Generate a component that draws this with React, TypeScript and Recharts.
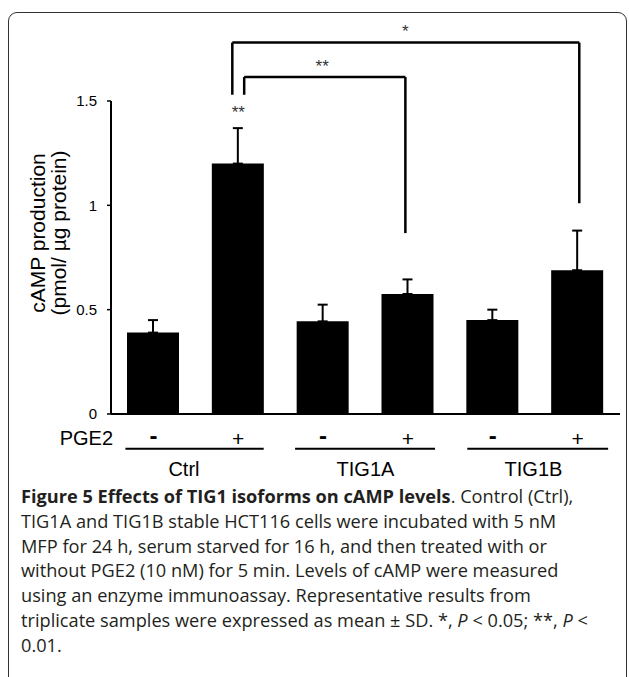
import React from 'react';
import {
  BarChart, Bar, XAxis, YAxis, ErrorBar, ReferenceLine, ReferenceDot,
} from 'recharts';

// ---- data ----
const categories = ['Ctrl-', 'Ctrl+', 'TIG1A-', 'TIG1A+', 'TIG1B-', 'TIG1B+'];
const barPositions = [0.5, 1.5, 2.5, 3.5, 4.5, 5.5];
const pge2Signs = ['-', '+', '-', '+', '-', '+'];
const campValues = [0.39, 1.2, 0.444, 0.575, 0.45, 0.689];
const campSD = [0.06, 0.17, 0.08, 0.07, 0.05, 0.19];
const groupLabels = ['Ctrl', 'TIG1A', 'TIG1B'];
const groupLabelX = [0.86, 3.0, 4.98];
const groupSpans = [[0.17, 1.8], [2.17, 3.82], [4.2, 5.86]];
const yTicks = [0, 0.5, 1, 1.5];
const barSig = [{ x: 1.5, y: 1.447, text: '**' }];
// significance brackets in data units (numeric x axis: bar i center = i + 0.5)
const brackets = [
  { text: '*', x1: 1.43, x2: 5.52, top: 1.78, leftEnd: 1.53, rightEnd: 1.01, labelX: 3.47, labelY: 1.835 },
  { text: '**', x1: 1.57, x2: 3.47, top: 1.615, leftEnd: 1.53, rightEnd: 0.867, labelX: 2.49, labelY: 1.668 },
];

const data = categories.map((c, i) => ({
  cat: c,
  pos: barPositions[i],
  sign: pge2Signs[i],
  value: campValues[i],
  err: [0, campSD[i]],
}));

const FONT = '"Liberation Sans", Arial, sans-serif';

const SignTick = (props: any) => {
  const { x, y, payload } = props;
  const idx = categories.indexOf(payload.value);
  const s = pge2Signs[idx];
  return (
    <text
      x={x}
      y={y + (s === '-' ? 21 : 24)}
      textAnchor="middle"
      dominantBaseline="central"
      fontFamily={FONT}
      fontSize={s === '-' ? 24 : 21}
      fontWeight={s === '-' ? 700 : 400}
      fill="#000"
    >
      {s}
    </text>
  );
};

const YTitle = (props: any) => {
  const vb = props.viewBox || { x: 0 };
  const cy = 233;
  const x1 = vb.x + 37;
  const x2 = vb.x + 58;
  return (
    <g fontFamily={FONT} fontSize={21} fill="#000">
      <text x={x1} y={cy} textAnchor="middle" dominantBaseline="central" transform={`rotate(-90 ${x1} ${cy})`}>
        cAMP production
      </text>
      <text x={x2} y={cy} textAnchor="middle" dominantBaseline="central" transform={`rotate(-90 ${x2} ${cy})`}>
        (pmol/ µg protein)
      </text>
    </g>
  );
};

const captionLines: React.ReactNode[] = [
  <><b>Figure 5 Effects of TIG1 isoforms on cAMP levels</b>. Control (Ctrl),</>,
  <>TIG1A and TIG1B stable HCT116 cells were incubated with 5 nM</>,
  <>MFP for 24 h, serum starved for 16 h, and then treated with or</>,
  <>without PGE2 (10 nM) for 5 min. Levels of cAMP were measured</>,
  <>using an enzyme immunoassay. Representative results from</>,
  <>triplicate samples were expressed as mean ± SD. *, <i>P</i> &lt; 0.05; **, <i>P</i> &lt;</>,
  <>0.01.</>,
];

export default function App() {
  return (
    <div style={{ position: 'absolute', left: 0, top: 0, width: 629, height: 677, overflow: 'hidden', background: '#fff' }}>
      <div
        style={{
          position: 'absolute', left: 8, top: 12, width: 619, height: 720,
          border: '1.6px solid #333', borderRadius: 9, boxSizing: 'border-box',
        }}
      />
      <div style={{ position: 'absolute', left: 0, top: 0 }}>
        <BarChart
          width={629}
          height={480}
          data={data}
          margin={{ top: 101, right: 9, left: 0, bottom: 18 }}
          barSize={52}
        >
          <XAxis
            dataKey="cat"
            xAxisId="c"
            height={48}
            axisLine={{ stroke: '#000', strokeWidth: 2 }}
            tickLine={false}
            tickSize={0}
            tickMargin={0}
            tick={<SignTick />}
            interval={0}
            label={{ value: 'PGE2', position: 'left', offset: -2, fontFamily: FONT, fontSize: 20, fill: '#000' }}
          />
          <XAxis xAxisId="n" dataKey="pos" type="number" domain={[0, 6]} hide allowDataOverflow />
          <YAxis
            width={111}
            domain={[0, 1.5]}
            ticks={yTicks}
            interval={0}
            axisLine={{ stroke: '#000', strokeWidth: 2 }}
            tickLine={{ stroke: '#000', strokeWidth: 1.5 }}
            tickSize={4}
            tickMargin={10}
            tick={{ fontFamily: FONT, fontSize: 15, fill: '#000' }}
            tickFormatter={(v: number) => String(v)}
            label={YTitle}
          />
          <Bar dataKey="value" xAxisId="c" fill="#000" isAnimationActive={false}>
            <ErrorBar dataKey="err" direction="y" width={5} stroke="#000" strokeWidth={2} />
          </Bar>
          {groupSpans.map((s, i) => (
            <ReferenceLine
              key={'g' + i}
              xAxisId="n"
              ifOverflow="visible"
              segment={[{ x: s[0], y: -0.166 }, { x: s[1], y: -0.166 }]}
              stroke="#000"
              strokeWidth={2}
            />
          ))}
          {groupLabels.map((g, i) => (
            <ReferenceDot
              key={'gl' + i}
              xAxisId="n"
              ifOverflow="visible"
              x={groupLabelX[i]}
              y={-0.262}
              r={0}
              fill="none"
              stroke="none"
              label={{ value: g, position: 'center', fontFamily: FONT, fontSize: 20, fill: '#000' }}
            />
          ))}
          {brackets.map((b, i) => [
            <ReferenceLine
              key={'bt' + i}
              xAxisId="n"
              ifOverflow="visible"
              segment={[{ x: b.x1, y: b.top }, { x: b.x2, y: b.top }]}
              stroke="#000"
              strokeWidth={2.5}
            />,
            <ReferenceLine
              key={'bl' + i}
              xAxisId="n"
              ifOverflow="visible"
              segment={[{ x: b.x1, y: b.top }, { x: b.x1, y: b.leftEnd }]}
              stroke="#000"
              strokeWidth={2.5}
            />,
            <ReferenceLine
              key={'br' + i}
              xAxisId="n"
              ifOverflow="visible"
              segment={[{ x: b.x2, y: b.top }, { x: b.x2, y: b.rightEnd }]}
              stroke="#000"
              strokeWidth={2.5}
            />,
            <ReferenceDot
              key={'bd' + i}
              xAxisId="n"
              ifOverflow="visible"
              x={b.labelX}
              y={b.labelY}
              r={0}
              fill="none"
              stroke="none"
              label={{ value: b.text, position: 'center', fontFamily: FONT, fontSize: 17, fill: '#333' }}
            />,
          ])}
          {barSig.map((s, i) => (
            <ReferenceDot
              key={'s' + i}
              xAxisId="n"
              ifOverflow="visible"
              x={s.x}
              y={s.y}
              r={0}
              fill="none"
              stroke="none"
              label={{ value: s.text, position: 'center', fontFamily: FONT, fontSize: 17, fill: '#333' }}
            />
          ))}
        </BarChart>
      </div>
      <div
        style={{
          position: 'absolute', left: 21, top: 484, whiteSpace: 'nowrap',
          fontFamily: '"Open Sans", sans-serif', fontSize: 18.2, lineHeight: '24.8px', color: '#231f20',
        }}
      >
        {captionLines.map((l, i) => (
          <div key={i}>{l}</div>
        ))}
      </div>
    </div>
  );
}
